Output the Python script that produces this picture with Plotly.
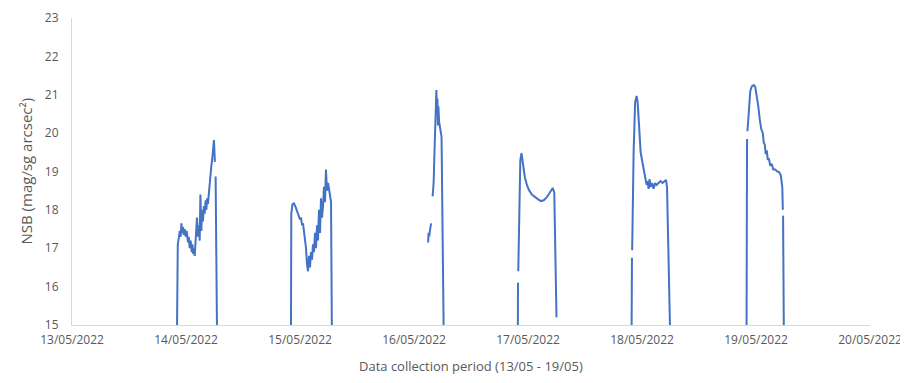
import plotly.graph_objects as go

# ---- data ----
night1_time = ["2022-05-13 22:07", "2022-05-13 22:08", "2022-05-13 22:16", "2022-05-13 22:28", "2022-05-13 22:41",
               "2022-05-13 22:53", "2022-05-13 23:02", "2022-05-13 23:12", "2022-05-13 23:22", "2022-05-13 23:31",
               "2022-05-13 23:44", "2022-05-13 23:56", "2022-05-14 00:09", "2022-05-14 00:25", "2022-05-14 00:34",
               "2022-05-14 00:47", "2022-05-14 00:59", "2022-05-14 01:12", "2022-05-14 01:21", "2022-05-14 01:31",
               "2022-05-14 01:41", "2022-05-14 01:50", "2022-05-14 02:02", "2022-05-14 02:19", "2022-05-14 02:31",
               "2022-05-14 02:44", "2022-05-14 02:53", "2022-05-14 03:02", "2022-05-14 03:14", "2022-05-14 03:24",
               "2022-05-14 03:34", "2022-05-14 03:46", "2022-05-14 03:56", "2022-05-14 04:08", "2022-05-14 04:17",
               "2022-05-14 04:27", "2022-05-14 04:37", "2022-05-14 04:49", "2022-05-14 04:59", "2022-05-14 05:11",
               "2022-05-14 05:20", "2022-05-14 05:30", "2022-05-14 05:40", "2022-05-14 05:53", "2022-05-14 06:05",
               "2022-05-14 06:09", "2022-05-14 06:14", "2022-05-14 06:31"]
night1_nsb = [15.0, 17.0, 17.1, 17.25, 17.45, 17.3, 17.65, 17.4, 17.55, 17.35,
              17.5, 17.3, 17.45, 17.15, 17.3, 17.0, 17.2, 16.9, 17.1, 16.85,
              17.0, 16.8, 17.25, 17.8, 17.3, 17.6, 17.2, 18.4, 17.45, 18.0,
              17.7, 18.1, 17.9, 18.25, 18.0, 18.3, 18.15, 18.5, 18.8, 18.95,
              19.15, 19.3, 19.55, 19.82, 19.25, None, 18.87, 15.0]

night2_time = ["2022-05-14 22:06", "2022-05-14 22:10", "2022-05-14 22:25", "2022-05-14 22:44", "2022-05-14 23:09",
               "2022-05-14 23:35", "2022-05-15 00:00", "2022-05-15 00:13", "2022-05-15 00:25", "2022-05-15 00:38",
               "2022-05-15 00:51", "2022-05-15 01:03", "2022-05-15 01:16", "2022-05-15 01:28", "2022-05-15 01:41",
               "2022-05-15 01:54", "2022-05-15 02:06", "2022-05-15 02:19", "2022-05-15 02:32", "2022-05-15 02:44",
               "2022-05-15 02:57", "2022-05-15 03:10", "2022-05-15 03:22", "2022-05-15 03:35", "2022-05-15 03:47",
               "2022-05-15 04:00", "2022-05-15 04:13", "2022-05-15 04:25", "2022-05-15 04:38", "2022-05-15 04:51",
               "2022-05-15 05:03", "2022-05-15 05:16", "2022-05-15 05:28", "2022-05-15 05:41", "2022-05-15 05:54",
               "2022-05-15 06:06", "2022-05-15 06:19", "2022-05-15 06:32", "2022-05-15 06:42"]
night2_nsb = [15.0, 17.9, 18.15, 18.17, 18.05, 17.9, 17.75, 17.8, 17.6, 17.65,
              17.4, 17.3, 17.0, 16.6, 16.4, 16.8, 16.5, 16.9, 16.7, 17.1,
              16.9, 17.4, 17.0, 17.6, 17.2, 18.0, 17.4, 18.3, 17.8, 18.1,
              18.6, 18.2, 19.05, 18.5, 18.7, 18.55, 18.4, 18.2, 15.0]

night3_time = ["2022-05-16 02:58", "2022-05-16 03:04", "2022-05-16 03:11", "2022-05-16 03:24", "2022-05-16 03:36",
               "2022-05-16 03:45", "2022-05-16 03:55", "2022-05-16 04:08", "2022-05-16 04:20", "2022-05-16 04:33",
               "2022-05-16 04:43", "2022-05-16 04:49", "2022-05-16 04:56", "2022-05-16 05:02", "2022-05-16 05:08",
               "2022-05-16 05:17", "2022-05-16 05:30", "2022-05-16 05:48", "2022-05-16 06:14"]
night3_nsb = [17.15, 17.4, 17.3, 17.5, 17.65, None, 18.35, 18.7, 19.6, 20.5,
              21.12, 20.5, 20.9, 20.2, 20.7, 20.3, 20.1, 19.9, 15.0]

night4_time = ["2022-05-16 21:52", "2022-05-16 21:54", "2022-05-16 21:55", "2022-05-16 21:57", "2022-05-16 22:11",
               "2022-05-16 22:23", "2022-05-16 22:38", "2022-05-16 22:55", "2022-05-16 23:20", "2022-05-16 23:46",
               "2022-05-17 00:11", "2022-05-17 00:49", "2022-05-17 01:26", "2022-05-17 02:04", "2022-05-17 02:42",
               "2022-05-17 03:20", "2022-05-17 03:58", "2022-05-17 04:35", "2022-05-17 05:13", "2022-05-17 05:32",
               "2022-05-17 06:00"]
night4_nsb = [15.0, 16.1, None, 16.4, 18.5, 19.3, 19.48, 19.2, 18.85, 18.65,
              18.52, 18.4, 18.33, 18.28, 18.23, 18.25, 18.33, 18.45, 18.57, 18.45,
              15.2]

night5_time = ["2022-05-17 21:49", "2022-05-17 21:53", "2022-05-17 21:54", "2022-05-17 21:56", "2022-05-17 22:14",
               "2022-05-17 22:33", "2022-05-17 22:52", "2022-05-17 23:05", "2022-05-17 23:24", "2022-05-17 23:43",
               "2022-05-18 00:00", "2022-05-18 00:20", "2022-05-18 00:39", "2022-05-18 00:58", "2022-05-18 01:11",
               "2022-05-18 01:23", "2022-05-18 01:36", "2022-05-18 01:49", "2022-05-18 02:08", "2022-05-18 02:26",
               "2022-05-18 02:45", "2022-05-18 03:04", "2022-05-18 03:29", "2022-05-18 03:54", "2022-05-18 04:19",
               "2022-05-18 04:44", "2022-05-18 05:03", "2022-05-18 05:16", "2022-05-18 05:53"]
night5_nsb = [15.0, 16.75, None, 16.95, 19.5, 20.8, 20.97, 20.8, 20.2, 19.5,
              19.3, 19.1, 18.85, 18.65, 18.75, 18.55, 18.8, 18.6, 18.7, 18.55,
              18.7, 18.65, 18.7, 18.75, 18.7, 18.75, 18.78, 18.6, 15.0]

night6_time = ["2022-05-18 22:01", "2022-05-18 22:07", "2022-05-18 22:09", "2022-05-18 22:12", "2022-05-18 22:29",
               "2022-05-18 22:48", "2022-05-18 23:07", "2022-05-18 23:32", "2022-05-18 23:51", "2022-05-19 00:10",
               "2022-05-19 00:29", "2022-05-19 00:48", "2022-05-19 01:07", "2022-05-19 01:26", "2022-05-19 01:38",
               "2022-05-19 01:51", "2022-05-19 02:03", "2022-05-19 02:16", "2022-05-19 02:29", "2022-05-19 02:41",
               "2022-05-19 03:00", "2022-05-19 03:19", "2022-05-19 03:38", "2022-05-19 04:03", "2022-05-19 04:28",
               "2022-05-19 04:54", "2022-05-19 05:13", "2022-05-19 05:32", "2022-05-19 05:39", "2022-05-19 05:40",
               "2022-05-19 05:42", "2022-05-19 05:51"]
night6_nsb = [15.0, 19.85, None, 20.05, 20.7, 21.1, 21.22, 21.25, 21.2, 21.0,
              20.7, 20.35, 20.1, 20.0, 19.75, 19.7, 19.45, 19.55, 19.3, 19.35,
              19.15, 19.2, 19.05, 19.05, 19.0, 18.98, 18.9, 18.6, 18.0, None,
              17.85, 15.0]

x_tick_labels = ["13/05/2022", "14/05/2022", "15/05/2022", "16/05/2022",
                 "17/05/2022", "18/05/2022", "19/05/2022", "20/05/2022"]
x_tick_vals = ["2022-05-13", "2022-05-14", "2022-05-15", "2022-05-16",
               "2022-05-17", "2022-05-18", "2022-05-19", "2022-05-20"]
y_ticks = [15, 16, 17, 18, 19, 20, 21, 22, 23]

# ---- assemble into one series with gaps between nights ----
times, nsb = [], []
for t, v in [(night1_time, night1_nsb), (night2_time, night2_nsb), (night3_time, night3_nsb),
             (night4_time, night4_nsb), (night5_time, night5_nsb), (night6_time, night6_nsb)]:
    times += t + [t[-1]]
    nsb += v + [None]

LINE = "#4472C4"
GREY = "#595959"
FONT = "Open Sans"

fig = go.Figure()
fig.add_trace(go.Scatter(x=times, y=nsb, mode="lines", connectgaps=False,
                         line=dict(color=LINE, width=2), showlegend=False))

# page body has an 8px margin, so the figure is sized 900x375 and offset accordingly
fig.update_layout(
    width=900, height=375,
    margin=dict(l=64, r=38, t=10, b=58),
    paper_bgcolor="white", plot_bgcolor="white",
    font=dict(family=FONT, color=GREY, size=12),
    xaxis=dict(
        type="date", range=["2022-05-13", "2022-05-20"], automargin=False,
        tickvals=x_tick_vals, ticktext=x_tick_labels,
        showgrid=False, zeroline=False,
        showline=True, linecolor="#D9D9D9", linewidth=1,
        ticks="", ticklabelstandoff=4, tickfont=dict(size=12, color=GREY),
    ),
    yaxis=dict(
        range=[15, 23], tickvals=y_ticks, automargin=False,
        showgrid=False, zeroline=False,
        showline=True, linecolor="#D9D9D9", linewidth=1,
        ticks="", ticklabelstandoff=10, tickfont=dict(size=12, color=GREY),
    ),
    annotations=[
        dict(text="Data collection period (13/05 - 19/05)", xref="paper", yref="paper",
             x=0.5, y=0, yshift=-41, xanchor="center", yanchor="middle",
             showarrow=False, font=dict(size=13, color=GREY)),
        dict(text="NSB (mag/sg arcsec²)", xref="paper", yref="paper",
             x=0, y=0.5, xshift=-47, xanchor="center", yanchor="middle", textangle=-90,
             showarrow=False, font=dict(size=15, color=GREY)),
    ],
)

fig.write_html("out.html")
